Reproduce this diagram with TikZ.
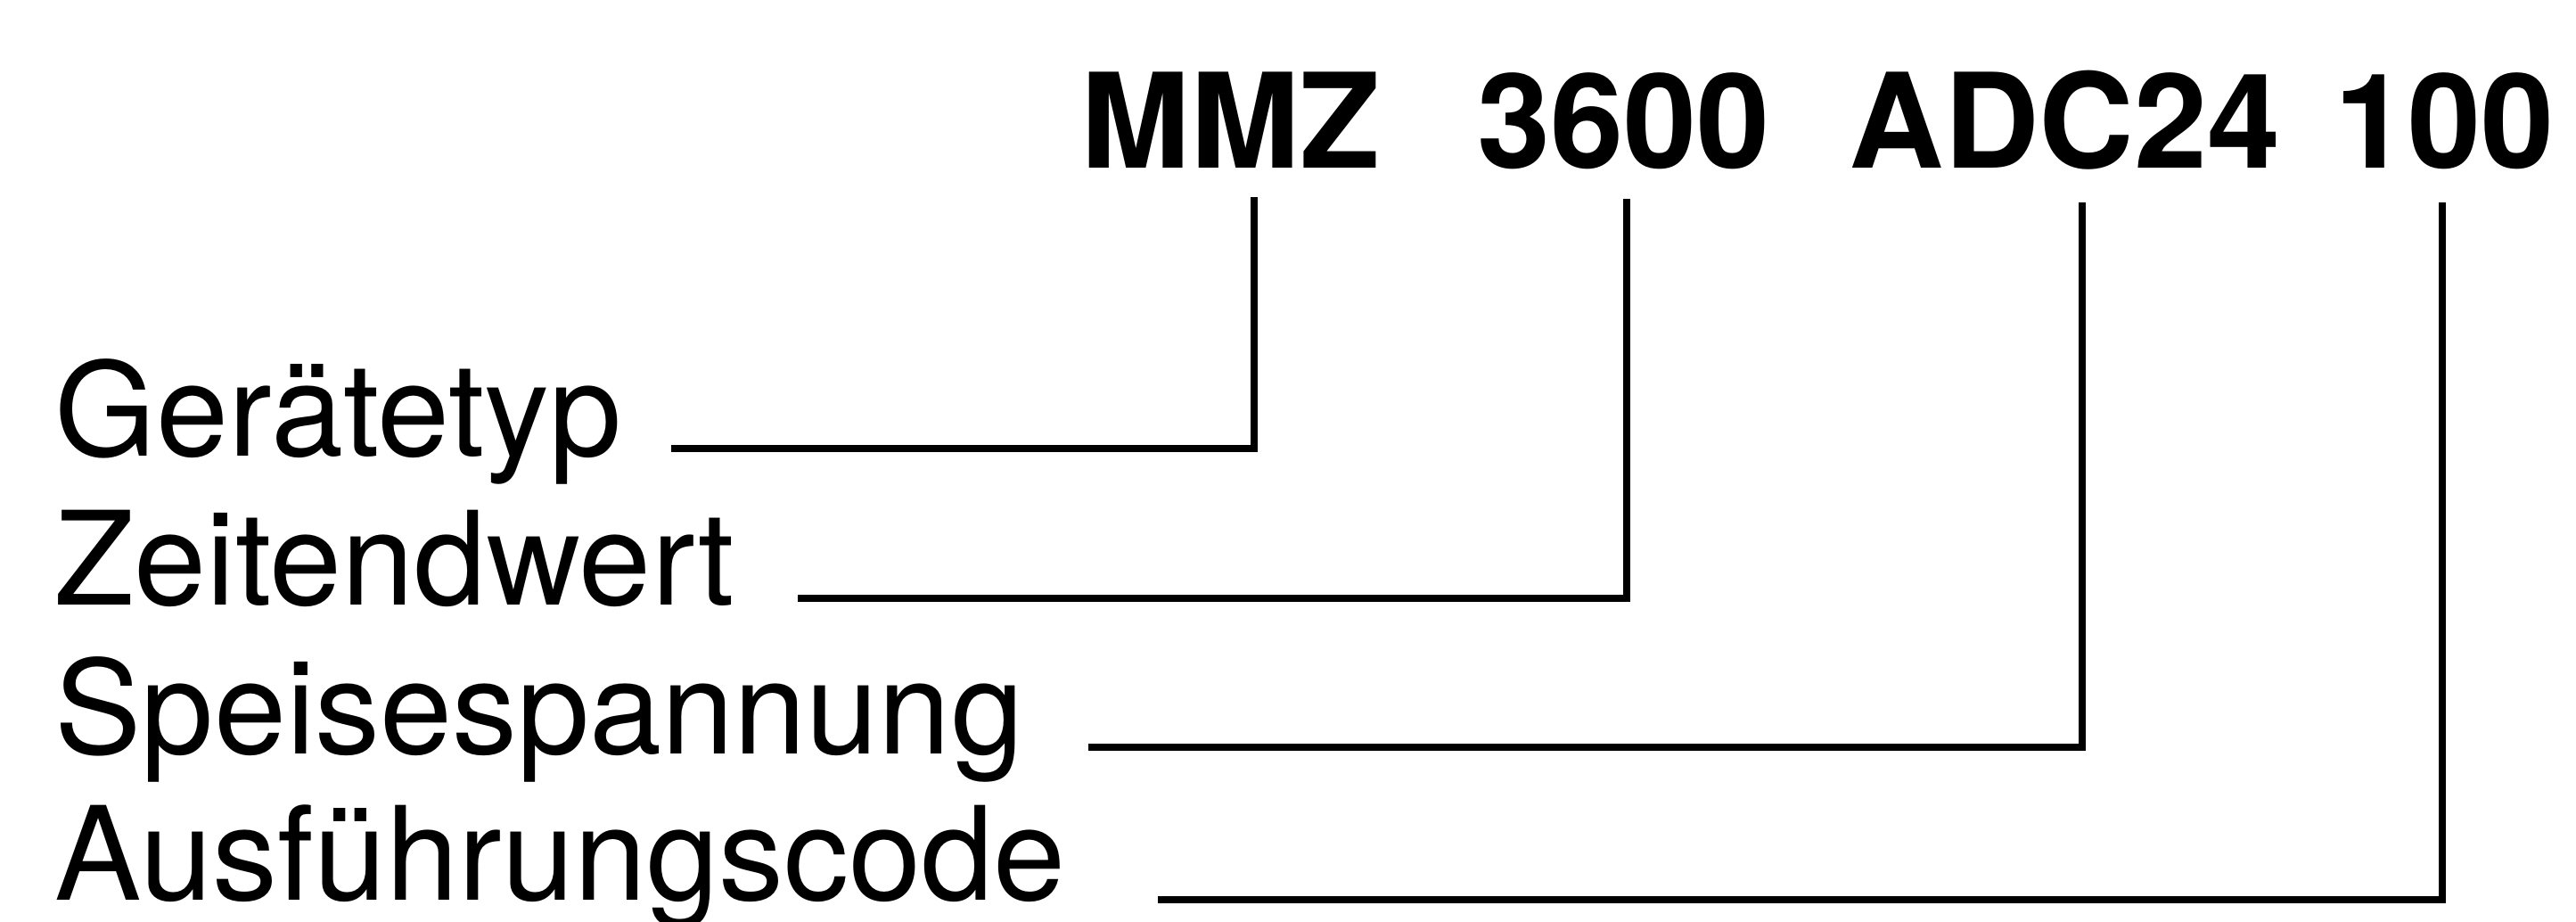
\documentclass[tikz,border=0pt]{standalone}
\usepackage{fontspec}
\setmainfont{TeX Gyre Heros}
\begin{document}
\begin{tikzpicture}[x=1cm,y=1cm,
  lbl/.style={anchor=base west, inner sep=0pt, font=\fontsize{41.5}{50}\selectfont},
  code/.style={anchor=base west, inner sep=0pt, font=\fontsize{42}{50}\selectfont\bfseries},
  lead/.style={line width=0.08cm, black, line join=miter}]
\useasboundingbox (0,0) rectangle (28.90,-10.33);

% type code parts
\node[code] (mmz)  at (12.12,-1.88) {MMZ};
\node[code] (zeit) at (16.57,-1.88) {3600};
\node[code] (adc)  at (20.74,-1.88) {ADC24};
\node[code] (ver)  at (26.19,-1.88) {100};

% labels
\node[lbl] (gt) at (0.61,-5.11) {Gerätetyp};
\node[lbl] (zw) at (0.61,-6.78) {Zeitendwert};
\node[lbl] (sp) at (0.61,-8.45) {Speisespannung};
\node[lbl] (ac) at (0.61,-10.09) {Ausführungscode};

% connector end points
\coordinate (mmzT)  at (14.07,-2.21);
\coordinate (zeitT) at (18.25,-2.23);
\coordinate (adcT)  at (23.36,-2.27);
\coordinate (verT)  at (27.40,-2.27);
\coordinate (gtE) at (7.53,-5.03);
\coordinate (zwE) at (8.95,-6.71);
\coordinate (spE) at (12.21,-8.38);
\coordinate (acE) at (12.99,-10.09);

\draw[lead] (mmzT)  |- (gtE);
\draw[lead] (zeitT) |- (zwE);
\draw[lead] (adcT)  |- (spE);
\draw[lead] (verT)  |- (acE);
\end{tikzpicture}
\end{document}
